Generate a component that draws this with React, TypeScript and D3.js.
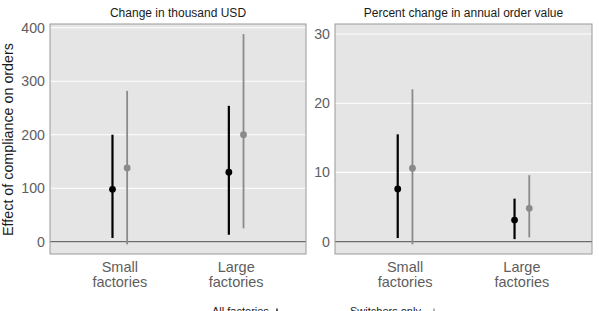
import * as d3 from 'd3';

// factory size groups, shared by both panels
const groups = ['Small', 'Large'];
const groupLabels = [['Small', 'factories'], ['Large', 'factories']];
const seriesNames = ['All factories', 'Switchers only'];

// panel 1: change in thousand USD  (estimate, lower, upper) per group
const usdAllEst = [98, 130];
const usdAllLo = [7, 13];
const usdAllHi = [200, 254];
const usdSwEst = [138, 200];
const usdSwLo = [-5, 25];
const usdSwHi = [282, 388];

// panel 2: percent change in annual order value
const pctAllEst = [7.6, 3.1];
const pctAllLo = [0.5, 0.35];
const pctAllHi = [15.5, 6.2];
const pctSwEst = [10.6, 4.8];
const pctSwLo = [-0.4, 0.6];
const pctSwHi = [22, 9.6];

const usdTicks = [0, 100, 200, 300, 400];
const pctTicks = [0, 10, 20, 30];

const W = 599;
const H = 311;
const top = 24;
const bottom = 254;
const seriesColors = ['#000000', '#8a8a8a'];
const font = 'Liberation Sans, Arial, sans-serif';

type Series = { est: number[]; lo: number[]; hi: number[] };

function Panel(props: {
  x0: number;
  x1: number;
  title: string;
  domain: [number, number];
  ticks: number[];
  series: Series[];
}) {
  const { x0, x1, title, domain, ticks, series } = props;
  const x = d3.scalePoint<string>().domain(groups).range([x0, x1]).padding(0.6);
  const y = d3.scaleLinear().domain(domain).range([bottom, top]);
  const dodge = x.step() * 0.063;

  return (
    <g>
      <rect x={x0} y={top} width={x1 - x0} height={bottom - top} fill="#e5e5e5" />
      {ticks.map((t) => (
        <line key={'g' + t} x1={x0} x2={x1} y1={y(t)} y2={y(t)} stroke="#ffffff" strokeWidth={1.1} />
      ))}
      <line x1={x0} x2={x1} y1={y(0)} y2={y(0)} stroke="#6b6b6b" strokeWidth={1.2} />
      {series.map((s, si) =>
        groups.map((g, gi) => {
          const cx = (x(g) as number) + (si === 0 ? -dodge : dodge);
          return (
            <g key={si + g}>
              <line
                x1={cx}
                x2={cx}
                y1={y(s.lo[gi])}
                y2={y(s.hi[gi])}
                stroke={seriesColors[si]}
                strokeWidth={si === 0 ? 2.2 : 1.8}
              />
              <circle cx={cx} cy={y(s.est[gi])} r={3.4} fill={seriesColors[si]} />
            </g>
          );
        })
      )}
      <rect x={x0} y={top} width={x1 - x0} height={bottom - top} fill="none" stroke="#9a9a9a" strokeWidth={1} />
      {ticks.map((t) => (
        <text key={'t' + t} x={x0 - 5} y={y(t)} dy="0.36em" textAnchor="end" fontSize={14.2} fill="#5e5e5e">
          {t}
        </text>
      ))}
      {groups.map((g, gi) => (
        <text key={'c' + g} x={x(g)} y={272} textAnchor="middle" fontSize={14.5} fill="#5e5e5e">
          {groupLabels[gi].map((line, li) => (
            <tspan key={li} x={x(g)} dy={li === 0 ? 0 : 15.3}>
              {line}
            </tspan>
          ))}
        </text>
      ))}
      <text x={(x0 + x1) / 2} y={17} textAnchor="middle" fontSize={12} fill="#1a1a1a">
        {title}
      </text>
    </g>
  );
}

export default function App() {
  return (
    <svg
      width={W}
      height={H}
      style={{ position: 'absolute', left: 0, top: 0, background: '#ffffff' }}
      fontFamily={font}
    >
      <Panel
        x0={50}
        x1={306}
        title="Change in thousand USD"
        domain={[-23, 407]}
        ticks={usdTicks}
        series={[
          { est: usdAllEst, lo: usdAllLo, hi: usdAllHi },
          { est: usdSwEst, lo: usdSwLo, hi: usdSwHi },
        ]}
      />
      <Panel
        x0={335}
        x1={592}
        title="Percent change in annual order value"
        domain={[-1.8, 31.45]}
        ticks={pctTicks}
        series={[
          { est: pctAllEst, lo: pctAllLo, hi: pctAllHi },
          { est: pctSwEst, lo: pctSwLo, hi: pctSwHi },
        ]}
      />
      <text
        transform={`translate(12.5, 139.5) rotate(-90)`}
        textAnchor="middle"
        fontSize={14.3}
        fill="#1a1a1a"
      >
        Effect of compliance on orders
      </text>
      {/* legend along the bottom edge, only its top shows */}
      {seriesNames.map((name, i) => {
        const lx = i === 0 ? 212 : 350;
        const kx = i === 0 ? 277 : 434;
        return (
          <g key={name}>
            <text x={lx} y={315} fontSize={11} fill="#1a1a1a">
              {name}
            </text>
            <line x1={kx} x2={kx} y1={308.5} y2={322} stroke={seriesColors[i]} strokeWidth={1.3} />
            <circle cx={kx} cy={315} r={3} fill={seriesColors[i]} />
          </g>
        );
      })}
    </svg>
  );
}
